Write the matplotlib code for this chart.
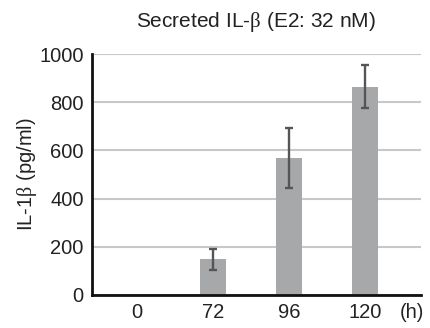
import matplotlib
matplotlib.use("Agg")
import matplotlib.pyplot as plt
import numpy as np

plt.rcParams['font.family'] = ['Liberation Sans', 'DejaVu Sans']
plt.rcParams['mathtext.fontset'] = 'custom'
plt.rcParams['mathtext.rm'] = 'Liberation Serif'

categories = ['0', '72', '96', '120']
values = [0, 148, 569, 862]
err_low = [0, 46, 124, 84]
err_high = [0, 42, 122, 94]
yticks = [0, 200, 400, 600, 800, 1000]

fig = plt.figure(figsize=(4.30, 3.28), dpi=100)
ax = fig.add_axes([92/430, 1 - 295/328, (421-92)/430, (295-54)/328])

x = np.arange(len(categories))
ax.bar(x, values, width=0.34, color='#a7a8aa', zorder=2)
ax.errorbar(x[1:], values[1:], yerr=[err_low[1:], err_high[1:]], fmt='none',
            ecolor='#555555', elinewidth=1.7, capsize=3, capthick=1.7, zorder=3)

ax.set_xlim(-0.59, 3.74)
ax.set_ylim(0, 1000)
ax.set_yticks(yticks)
ax.set_xticks(x)
ax.set_xticklabels(categories)
ax.yaxis.grid(True, color='#c8c8c8', linewidth=1.5, zorder=0)
ax.set_axisbelow(True)
for s in ['top', 'right']:
    ax.spines[s].set_visible(False)
for s in ['left', 'bottom']:
    ax.spines[s].set_linewidth(2)
    ax.spines[s].set_color('#111111')
ax.tick_params(axis='both', length=0, labelsize=14.5, colors='#222222')
ax.tick_params(axis='y', pad=6)
ax.tick_params(axis='x', pad=6)

ax.set_ylabel('IL-1$\\mathrm{β}$ (pg/ml)', fontsize=14.5, color='#222222', labelpad=0)
ax.text(256/430, 1 - 22/328, 'Secreted IL-$\\mathrm{β}$ (E2: 32 nM)', transform=fig.transFigure,
        fontsize=15, color='#222222', ha='center', va='center')
ax.text(412/430, 1 - 312/328, '(h)', transform=fig.transFigure, fontsize=14.5,
        color='#222222', ha='center', va='center')

fig.savefig('out.png', dpi=100)
